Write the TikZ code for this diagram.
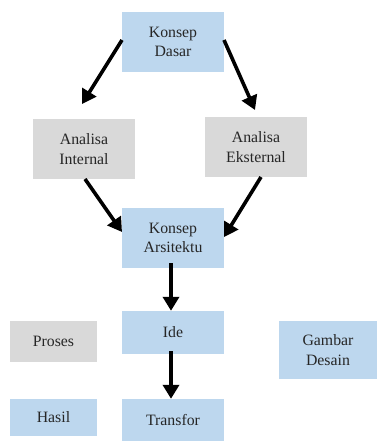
\documentclass[tikz,border=0pt]{standalone}
\usepackage{fontspec}
\setmainfont{Liberation Serif}
\usetikzlibrary{arrows.meta}
\definecolor{bluebox}{HTML}{BDD7EE}
\definecolor{greybox}{HTML}{D9D9D9}
\begin{document}
\begin{tikzpicture}[x=1pt,y=-1pt,
  box/.style={inner sep=0pt, align=center, font=\fontsize{15.8}{19.5}\selectfont, text=black!85},
  bbox/.style={box, fill=bluebox},
  gbox/.style={box, fill=greybox},
  arr/.style={line width=3.6pt, -{Triangle[length=14pt,width=16pt]}}]
\useasboundingbox (0,0) rectangle (377,441);
\node[bbox, minimum width=102pt, minimum height=60pt] (kd) at (173,42) {Konsep\\Dasar};
\node[gbox, minimum width=102pt, minimum height=60pt] (ai) at (84,149) {Analisa\\Internal};
\node[gbox, minimum width=102pt, minimum height=60pt] (ae) at (256,147) {Analisa\\Eksternal};
\node[bbox, minimum width=102pt, minimum height=60pt] (ka) at (173,238) {Konsep\\Arsitektu};
\node[bbox, minimum width=102pt, minimum height=43pt] (ide) at (173,332.5) {Ide};
\node[gbox, minimum width=87pt, minimum height=41pt] (pr) at (53.5,341.5) {Proses};
\node[bbox, minimum width=98pt, minimum height=58pt] (gd) at (328,350) {Gambar\\Desain};
\node[bbox, minimum width=87pt, minimum height=37pt] (ha) at (53.5,417.5) {Hasil};
\node[bbox, minimum width=102pt, minimum height=42pt] (tr) at (173,420) {Transfor};
\coordinate (a1s) at (122,40); \coordinate (a1e) at (82,104);
\coordinate (a2s) at (224,40); \coordinate (a2e) at (255,110);
\coordinate (a3s) at (85,179); \coordinate (a3e) at (122,232);
\coordinate (a4s) at (261,177); \coordinate (a4e) at (224,237);
\draw[arr] (a1s) -- (a1e);
\draw[arr] (a2s) -- (a2e);
\draw[arr] (a3s) -- (a3e);
\draw[arr] (a4s) -- (a4e);
\draw[arr] (171,263) -- (ide.north -| 171,0);
\draw[arr] (171,351) -- (tr.north -| 171,0);
\end{tikzpicture}
\end{document}
